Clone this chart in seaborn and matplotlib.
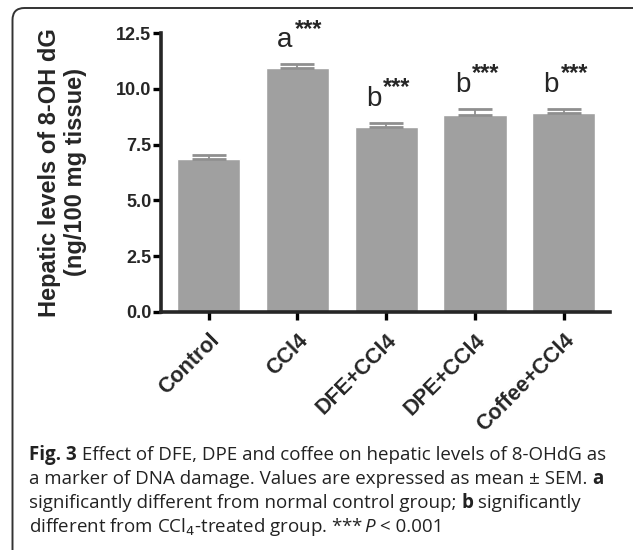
import seaborn as sns
import matplotlib.pyplot as plt
import pandas as pd
from matplotlib.patches import FancyBboxPatch

# Data
groups = ['Control', 'CCl4', 'DFE+CCl4', 'DPE+CCl4', 'Coffee+CCl4']
means = [6.85, 10.95, 8.27, 8.84, 8.90]
sems = [0.18, 0.15, 0.20, 0.25, 0.20]
letters = ['', 'a', 'b', 'b', 'b']

dataset = pd.DataFrame({'Group': groups, 'Level': means})

sns.set_style('ticks')
plt.rcParams['font.family'] = ['Liberation Sans', 'DejaVu Sans']

W, H = 633, 550
fig = plt.figure(figsize=(W / 100, H / 100), dpi=100)

# rounded frame round the whole figure (in inches, right/bottom run off the page)
frame = FancyBboxPatch((0.125, 5.5 - 0.08 - 6.0), 7.0, 6.0,
                       boxstyle='round,pad=0,rounding_size=0.12',
                       transform=fig.dpi_scale_trans, fill=False,
                       edgecolor='#333333', linewidth=1.4)
fig.patches.append(frame)

# axes box in pixels: x 161..610, y 33..312
ax = fig.add_axes([161 / W, 1 - 312 / H, (610 - 161) / W, (312 - 33) / H])
sns.barplot(data=dataset, x='Group', y='Level', color='#a0a0a0',
            saturation=1, width=0.71, ax=ax)
ax.errorbar(range(len(groups)), means, yerr=[[0] * len(groups), sems],
            fmt='none', ecolor='#8f8f8f', elinewidth=1.3, capsize=12,
            capthick=2, zorder=1)

ax.set_ylim(0, 12.5)
ax.set_xlim(-0.535, 4.52)
ax.set_yticks([0, 2.5, 5.0, 7.5, 10.0, 12.5])
ax.set_yticklabels(['0.0', '2.5', '5.0', '7.5', '10.0', '12.5'])
for s in ['top', 'right']:
    ax.spines[s].set_visible(False)
for s in ['left', 'bottom']:
    ax.spines[s].set_linewidth(2.6)
ax.tick_params(axis='both', width=2.4, length=6, color='black')
ax.tick_params(axis='y', labelsize=13, pad=1)
ax.tick_params(axis='x', labelsize=15.5, pad=7)
for lab in ax.get_yticklabels():
    lab.set_fontfamily(['Liberation Sans Narrow', 'Liberation Sans'])
    lab.set_fontweight('bold')
for lab in ax.get_xticklabels():
    lab.set_fontweight('bold')
    lab.set_rotation(45)
    lab.set_ha('right')
    lab.set_rotation_mode('anchor')

ax.set_xlabel('')
ax.set_ylabel('Hepatic levels of 8-OH dG\n(ng/100 mg tissue)',
              fontsize=17, fontweight='bold', linespacing=1.15)
ax.yaxis.set_label_coords(-74 / 449, 0.5)

# significance marks
for i, (m, s, l) in enumerate(zip(means, sems, letters)):
    if not l:
        continue
    ax.annotate(l, (i, m + s), xytext=(-9, 8), textcoords='offset points',
                ha='center', va='bottom', fontsize=20,
                fontfamily=['Liberation Sans Narrow', 'Liberation Sans'])
    ax.annotate('***', (i, m + s), xytext=(-2, 17), textcoords='offset points',
                ha='left', va='bottom', fontsize=17, fontweight='bold',
                fontfamily=['Liberation Sans Narrow', 'Liberation Sans'])

# caption with mixed styles
cap_lines = [
    [('Fig. 3', 'bold', 'normal'), (' Effect of DFE, DPE and coffee on hepatic levels of 8-OHdG as', 'normal', 'normal')],
    [('a marker of DNA damage. Values are expressed as mean \u00b1 SEM. ', 'normal', 'normal'), ('a', 'bold', 'normal')],
    [('significantly different from normal control group; ', 'normal', 'normal'), ('b', 'bold', 'normal'), (' significantly', 'normal', 'normal')],
    [('different from CCl$_4$-treated group. *** ', 'normal', 'normal'), ('P', 'normal', 'italic'), (' < 0.001', 'normal', 'normal')],
]
cap_base = [460, 484, 508, 532]
renderer = fig.canvas.get_renderer()
for parts, yp in zip(cap_lines, cap_base):
    x = 29
    for txt, wgt, sty in parts:
        t = fig.text(x / W, 1 - yp / H, txt, fontsize=13.5, fontweight=wgt,
                     fontstyle=sty, va='baseline', ha='left', color='#222222',
                     fontfamily=['Open Sans', 'DejaVu Sans'])
        bb = t.get_window_extent(renderer)
        x += bb.width

fig.savefig('out.png', dpi=100)
